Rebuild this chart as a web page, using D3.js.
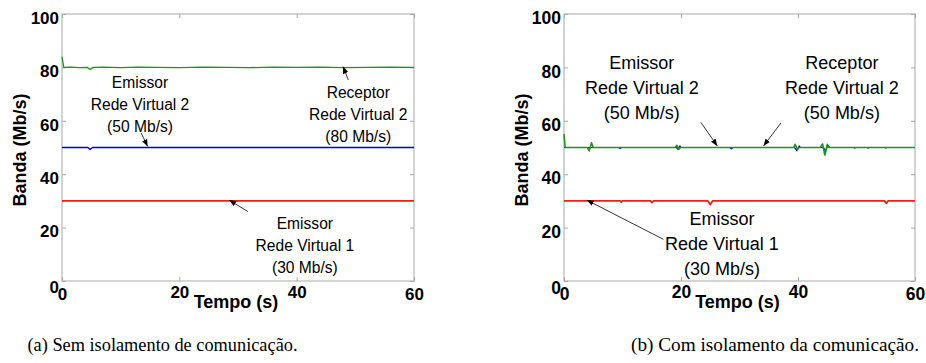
<!DOCTYPE html>
<html>
<head>
<meta charset="utf-8">
<script src="https://cdn.jsdelivr.net/npm/d3@7"></script>
<style>
  body { margin: 0; background: #fff; }
  svg { display: block; }
  .tick text { font-family: "Liberation Sans", Arial, sans-serif; font-weight: bold; }
</style>
</head>
<body>
<div id="chart"></div>
<script>
// tick values shared by both panels
var xTicks = [0, 20, 40, 60];
var yTicks = [0, 20, 40, 60, 80, 100];

// (a) sem isolamento de comunicacao
var tA_rx2 = [0, 0.3, 1.5, 3, 4.3, 4.8, 5.3, 7, 10, 13, 16, 20, 24, 28, 32, 36, 40, 44, 48, 52, 56, 60];
var vA_rx2 = [84, 80, 80.1, 79.9, 80, 79.2, 80, 80.1, 79.9, 80.1, 80, 79.9, 80.1, 80, 79.9, 80.1, 80, 80.1, 79.9, 80, 80.1, 80];
var tA_tx2 = [0, 4.4, 4.8, 5.2, 60];
var vA_tx2 = [50, 50, 49.3, 50, 50];
var tA_tx1 = [0, 60];
var vA_tx1 = [30, 30];

// (b) com isolamento da comunicacao
var tB_tx2 = [0, 9.4, 9.6, 9.8, 19.2, 19.5, 19.8, 20.0, 28.3, 28.6, 28.9, 39.4, 39.8, 40.2, 40.4, 44.0, 44.4, 44.7, 45.1, 45.4, 49.5, 49.7, 49.9, 51.8, 52, 52.2, 54.8, 55, 55.2, 60];
var vB_tx2 = [50, 50, 49.6, 50, 50, 49.3, 50.6, 50, 50, 49.5, 50, 50, 48.8, 50.6, 50, 50, 49.8, 48.5, 50.8, 50, 50, 49.8, 50, 50, 49.8, 50, 50, 49.8, 50, 50];
var tB_rx2 = [0, 0.2, 4.0, 4.3, 4.7, 5.0, 19.0, 19.3, 19.6, 19.9, 39.3, 39.5, 39.9, 40.2, 43.8, 44.2, 44.6, 45.0, 45.3, 60];
var vB_rx2 = [55, 50, 50, 48.7, 51.8, 50, 50, 50.8, 49.3, 50, 50, 51.2, 49.3, 50, 50, 51.3, 47.2, 51.2, 50, 50];
var tB_tx1 = [0, 9.6, 9.8, 10, 14.8, 15, 15.3, 24.6, 25, 25.4, 54.8, 55.1, 55.4, 60];
var vB_tx1 = [30, 30, 29.6, 30, 30, 29.4, 30, 30, 28.6, 30, 30, 29.1, 30, 30];

var captions = ["(a) Sem isolamento de comunicação.", "(b) Com isolamento da comunicação."];

var colors = { tx1: "#ee1c1c", tx2: "#0000d0", rx2: "#1f921f" };

var svgWidth = 926;
var svgHeight = 363;

var svg = d3.select("#chart")
  .append("svg")
  .attr("width", svgWidth)
  .attr("height", svgHeight);

svg.append("defs").append("marker")
  .attr("id", "head")
  .attr("viewBox", "0 0 10 10")
  .attr("refX", 10)
  .attr("refY", 5)
  .attr("markerWidth", 7)
  .attr("markerHeight", 7)
  .attr("markerUnits", "userSpaceOnUse")
  .attr("orient", "auto")
  .append("path")
  .attr("d", "M0,1 L10,5 L0,9 z")
  .attr("fill", "#000");

// panels: left/right edges of plot box, sizes of fonts
var panels = [
  {
    x0: 62, x1: 414, tickSize: 17, labelSize: 18, noteSize: 15.6, lineGap: 22, capX: 162.5, capLen: 270,
    series: [
      { t: tA_tx1, v: vA_tx1, c: colors.tx1, w: 1.8 },
      { t: tA_tx2, v: vA_tx2, c: colors.tx2, w: 1.3 },
      { t: tA_rx2, v: vA_rx2, c: colors.rx2, w: 1.3 }
    ],
    notes: [
      { lines: ["Emissor", "Rede Virtual 2", "(50 Mb/s)"], at: [13.3, 74.3], from: [13.5, 55.4], to: [14.6, 50.4] },
      { lines: ["Receptor", "Rede Virtual 2", "(80 Mb/s)"], at: [50.5, 70.5], from: [48.8, 75.3], to: [47.9, 80.3] },
      { lines: ["Emissor", "Rede Virtual 1", "(30 Mb/s)"], at: [41.4, 21.7], from: [31.7, 26], to: [28.5, 30.3] }
    ]
  },
  {
    x0: 564, x1: 915, tickSize: 17.5, labelSize: 18, noteSize: 18, lineGap: 25, capX: 775, capLen: 288,
    series: [
      { t: tB_tx1, v: vB_tx1, c: colors.tx1, w: 1.8 },
      { t: tB_tx2, v: vB_tx2, c: colors.tx2, w: 1.2 },
      { t: tB_rx2, v: vB_rx2, c: colors.rx2, w: 1.6 }
    ],
    notes: [
      { lines: ["Emissor", "Rede Virtual 2", "(50 Mb/s)"], at: [13.3, 81.6], from: [23.4, 59.4], to: [26.2, 50.6] },
      { lines: ["Receptor", "Rede Virtual 2", "(50 Mb/s)"], at: [47.5, 81.6], from: [37.1, 59.2], to: [34.1, 50.6] },
      { lines: ["Emissor", "Rede Virtual 1", "(30 Mb/s)"], at: [27, 23.5], from: [17, 15.6], to: [3.9, 30.3] }
    ]
  }
];

var plotTop = 14, plotBottom = 281;

panels.forEach(function(p, i) {
  var x = d3.scaleLinear().domain([0, 60]).range([p.x0, p.x1]);
  var y = d3.scaleLinear().domain([0, 100]).range([plotBottom, plotTop]);
  var g = svg.append("g");

  // box
  g.append("rect")
    .attr("x", p.x0).attr("y", plotTop)
    .attr("width", p.x1 - p.x0).attr("height", plotBottom - plotTop)
    .attr("fill", "none").attr("stroke", "#a8a8a8").attr("stroke-width", 1);

  // axes with inward ticks
  var axB = g.append("g").attr("transform", "translate(0," + plotBottom + ")")
    .call(d3.axisBottom(x).tickValues(xTicks).tickSizeInner(-4).tickSizeOuter(0).tickPadding(10));
  var axT = g.append("g").attr("transform", "translate(0," + plotTop + ")")
    .call(d3.axisTop(x).tickValues(xTicks).tickSizeInner(-4).tickSizeOuter(0).tickFormat(""));
  var axL = g.append("g").attr("transform", "translate(" + p.x0 + ",0)")
    .call(d3.axisLeft(y).tickValues(yTicks).tickSizeInner(-4).tickSizeOuter(0).tickPadding(10));
  var axR = g.append("g").attr("transform", "translate(" + p.x1 + ",0)")
    .call(d3.axisRight(y).tickValues(yTicks).tickSizeInner(-4).tickSizeOuter(0).tickFormat(""));

  [axB, axT, axL, axR].forEach(function(a) {
    a.select(".domain").remove();
    a.selectAll(".tick line").attr("stroke", "#a8a8a8");
    a.selectAll(".tick text").attr("fill", "#000").style("font-size", p.tickSize + "px");
  });
  axL.selectAll(".tick text").attr("dy", "0.55em").attr("x", -3);
  axL.selectAll(".tick").filter(function(d) { return d === 0; })
    .select("text").attr("dy", "0.7em");
  axB.selectAll(".tick text").attr("y", 10).attr("dy", "0.5em");
  axB.selectAll(".tick").filter(function(d) { return d === 20 || d === 40; })
    .select("text").attr("y", 8);

  // series lines
  var line = d3.line().x(function(d) { return x(d[0]); }).y(function(d) { return y(d[1]); });
  p.series.forEach(function(s) {
    g.append("path")
      .datum(s.t.map(function(t, k) { return [t, s.v[k]]; }))
      .attr("d", line)
      .attr("fill", "none")
      .attr("stroke", s.c)
      .attr("stroke-width", s.w)
      .attr("stroke-linejoin", "round");
  });

  // axis labels
  g.append("text")
    .attr("x", (p.x0 + p.x1) / 2 - 2)
    .attr("y", 308)
    .attr("text-anchor", "middle")
    .style("font-family", "Liberation Sans, Arial, sans-serif")
    .style("font-weight", "bold")
    .style("font-size", p.labelSize + "px")
    .text("Tempo (s)");

  g.append("text")
    .attr("transform", "translate(" + (p.x0 - 36) + "," + 150 + ") rotate(-90)")
    .attr("text-anchor", "middle")
    .style("font-family", "Liberation Sans, Arial, sans-serif")
    .style("font-weight", "bold")
    .style("font-size", p.labelSize + "px")
    .text("Banda (Mb/s)");

  // annotations
  p.notes.forEach(function(n) {
    var t = g.append("text")
      .attr("text-anchor", "middle")
      .style("font-family", "Liberation Sans, Arial, sans-serif")
      .style("font-size", p.noteSize + "px");
    n.lines.forEach(function(s, k) {
      t.append("tspan")
        .attr("x", x(n.at[0]))
        .attr("y", y(n.at[1]) + k * p.lineGap)
        .attr("dy", "0.35em")
        .text(s);
    });
    g.append("line")
      .attr("x1", x(n.from[0])).attr("y1", y(n.from[1]))
      .attr("x2", x(n.to[0])).attr("y2", y(n.to[1]))
      .attr("stroke", "#000").attr("stroke-width", 0.8)
      .attr("marker-end", "url(#head)");
  });

  // caption
  svg.append("text")
    .attr("x", p.capX)
    .attr("y", 351)
    .attr("text-anchor", "middle")
    .attr("textLength", p.capLen)
    .attr("lengthAdjust", "spacingAndGlyphs")
    .style("font-family", "Liberation Serif, Times New Roman, serif")
    .style("font-size", "19.5px")
    .text(captions[i]);
});
</script>
</body>
</html>
